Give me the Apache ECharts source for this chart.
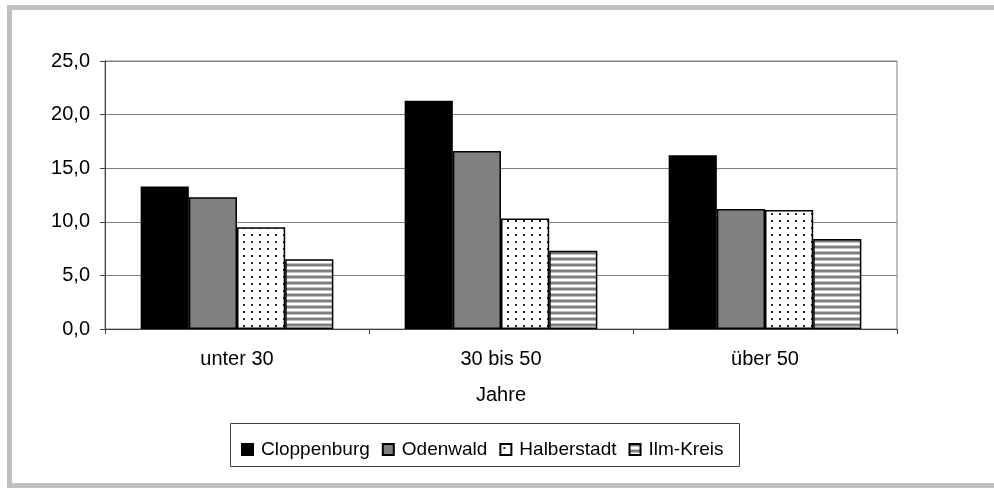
<!DOCTYPE html>
<html>
<head>
<meta charset="utf-8">
<script src="https://cdn.jsdelivr.net/npm/echarts@6/dist/echarts.min.js"></script>
<style>
    * { margin: 0; padding: 0; }
    body { background: #fff; }
    #chart { width: 994px; height: 488px; }
</style>
</head>
<body>
<div id="chart"></div>
<script>
const categories = ['unter 30', '30 bis 50', 'über 50'];
const seriesNames = ['Cloppenburg', 'Odenwald', 'Halberstadt', 'Ilm-Kreis'];
const cloppenburg = [13.3, 21.3, 16.2];
const odenwald = [12.3, 16.6, 11.2];
const halberstadt = [9.5, 10.3, 11.1];
const ilmKreis = [6.5, 7.3, 8.4];
const yTicks = [0, 5, 10, 15, 20, 25];

const FONT = '"Liberation Sans", Arial, sans-serif';

// kleine Muster für die Balken
function dotPattern() {
    const c = document.createElement('canvas');
    c.width = 8; c.height = 7;
    const ctx = c.getContext('2d');
    ctx.fillStyle = '#fff';
    ctx.fillRect(0, 0, 8, 7);
    ctx.fillStyle = '#222';
    ctx.fillRect(3, 3, 2, 2);
    return c;
}
function stripePattern() {
    const c = document.createElement('canvas');
    c.width = 6; c.height = 6;
    const ctx = c.getContext('2d');
    const rows = ['#808080', '#808080', '#c0c0c0', '#ffffff', '#ffffff', '#c0c0c0'];
    rows.forEach((col, i) => {
        ctx.fillStyle = col;
        ctx.fillRect(0, i, 6, 1);
    });
    return c;
}

const fills = [
    '#000000',
    '#808080',
    { image: dotPattern(), repeat: 'repeat' },
    { image: stripePattern(), repeat: 'repeat' }
];
const values = [cloppenburg, odenwald, halberstadt, ilmKreis];

const chart = echarts.init(document.getElementById('chart'), null, { renderer: 'canvas' });

const option = {
    backgroundColor: '#ffffff',
    animation: false,
    textStyle: { fontFamily: FONT },
    grid: {
        left: 105,
        right: 97,
        top: 61,
        bottom: 159,
        show: true,
        borderColor: '#808080',
        borderWidth: 1
    },
    graphic: [
        {
            type: 'rect',
            shape: { x: 9.5, y: 7.5, width: 1000, height: 478 },
            style: { fill: 'none', stroke: '#c0c0c0', lineWidth: 5 },
            silent: true
        },
        {
            type: 'rect',
            shape: { x: 230.5, y: 423.5, width: 509, height: 43 },
            style: { fill: 'none', stroke: '#404040', lineWidth: 1 },
            silent: true
        }
    ],
    legend: {
        left: 236,
        top: 435,
        itemWidth: 11,
        itemHeight: 11,
        itemGap: 12,
        icon: 'rect',
        data: seriesNames,
        textStyle: { fontFamily: FONT, fontSize: 19, color: '#000', padding: [0, 0, 0, 3] }
    },
    xAxis: {
        type: 'category',
        data: categories,
        name: 'Jahre',
        nameLocation: 'middle',
        nameGap: 56,
        nameTextStyle: { fontFamily: FONT, fontSize: 20, color: '#000', verticalAlign: 'top' },
        axisLine: { lineStyle: { color: '#404040', width: 1 } },
        axisTick: { show: true, length: 5, inside: false, alignWithLabel: false, lineStyle: { color: '#404040' } },
        axisLabel: { fontFamily: FONT, fontSize: 20, color: '#000', margin: 20 }
    },
    yAxis: {
        type: 'value',
        min: 0,
        max: 25,
        interval: 5,
        axisLine: { show: true, lineStyle: { color: '#404040', width: 1 } },
        axisTick: { show: true, length: 5, lineStyle: { color: '#404040' } },
        splitLine: { lineStyle: { color: '#808080', width: 1 } },
        axisLabel: {
            fontFamily: FONT,
            fontSize: 20,
            color: '#000',
            margin: 15,
            formatter: v => yTicks.includes(v) ? v.toFixed(1).replace('.', ',') : ''
        }
    },
    series: seriesNames.map((name, i) => ({
        name: name,
        type: 'bar',
        data: values[i],
        barGap: '0%',
        barCategoryGap: '27%',
        itemStyle: {
            color: fills[i],
            borderColor: '#000',
            borderWidth: 1.5
        }
    }))
};

chart.setOption(option);
</script>
</body>
</html>
